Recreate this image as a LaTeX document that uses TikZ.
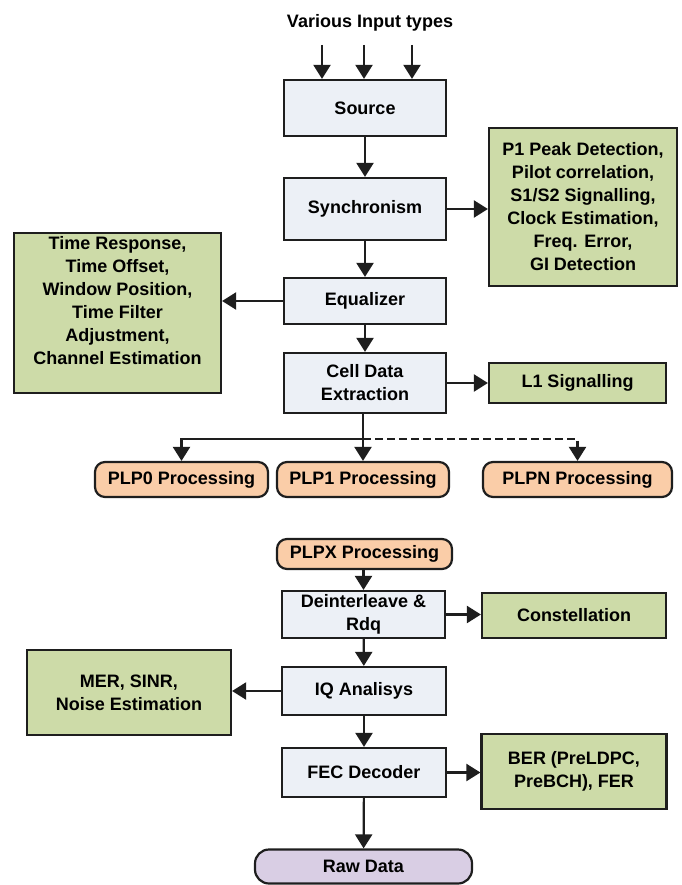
\documentclass[tikz,border=0pt]{standalone}
\usepackage{fontspec}
\setmainfont{Liberation Sans}
\usetikzlibrary{arrows.meta}
\definecolor{blockfill}{RGB}{236,240,246}
\definecolor{infofill}{RGB}{205,219,168}
\definecolor{plpfill}{RGB}{250,205,168}
\definecolor{rawfill}{RGB}{217,206,228}
\definecolor{edge}{RGB}{30,30,30}
\tikzset{
  txt/.style={inner sep=0pt, align=center, font=\fontsize{18}{23}\selectfont\bfseries},
  base/.style={txt, draw=edge, line width=2.2pt},
  block/.style={base, fill=blockfill},
  info/.style={base, fill=infofill},
  plp/.style={base, fill=plpfill, rounded corners=10pt},
  raw/.style={base, fill=rawfill, rounded corners=14pt},
  flow/.style={line width=2.2pt, draw=edge,
    -{Triangle[width=17pt,length=14pt]}},
  dashflow/.style={flow, dash pattern=on 8pt off 4pt},
  plain/.style={line width=2.2pt, draw=edge}
}
\begin{document}
\begin{tikzpicture}[x=1pt,y=-1pt]
\useasboundingbox (0,0) rectangle (681,885);

% upper chain
\node[txt] (title) at (370,23) {Various Input types};
\node[block, minimum width=162pt, minimum height=56pt] (source) at (365,108) {Source};
\node[block, minimum width=162pt, minimum height=62pt] (sync) at (365,209) {Synchronism};
\node[info, minimum width=188pt, minimum height=158pt] (sinfo) at (583,207)
  {P1 Peak Detection,\\Pilot correlation,\\S1/S2 Signalling,\\Clock Estimation,\\Freq. Error,\\GI Detection};
\node[block, minimum width=162pt, minimum height=46pt] (eq) at (365,301) {Equalizer};
% timing box: frame and its text set a little above centre
\node[info, minimum width=207pt, minimum height=160pt] (einfo) at (117.5,313) {};
\node[txt] (einfotext) at (117.5,301)
  {Time Response,\\Time Offset,\\Window Position,\\Time Filter\\Adjustment,\\Channel Estimation};
\node[block, minimum width=162pt, minimum height=60pt] (cell) at (365,383) {Cell Data\\Extraction};
\node[info, minimum width=177pt, minimum height=40pt] (l1) at (577.5,383) {L1 Signalling};

\node[plp, minimum width=173pt, minimum height=35pt] (plp0) at (181.5,479.5) {PLP0 Processing};
\node[plp, minimum width=172pt, minimum height=35pt] (plp1) at (363,479.5) {PLP1 Processing};
\node[plp, minimum width=189pt, minimum height=35pt] (plpn) at (577.5,479.5) {PLPN Processing};
\coordinate (split) at (363,439);

% input arrows
\coordinate (in1) at (322,45);
\coordinate (in2) at (364,45);
\coordinate (in3) at (412,45);
\draw[flow] (in1) -- (in1 |- source.north);
\draw[flow] (in2) -- (in2 |- source.north);
\draw[flow] (in3) -- (in3 |- source.north);

\draw[flow] (source) -- (sync);
\draw[flow] (sync.east) -- (sync.east -| sinfo.west);
\draw[flow] (sync) -- (eq);
\draw[flow] (eq.west) -- (eq.west -| einfo.east);
\draw[flow] (eq) -- (cell);
\draw[flow] (cell) -- (l1);
\draw[plain] (cell.south -| split) -- (split);
\draw[flow] (split) -- (plp1);
\draw[flow] (split) -| (plp0);
\draw[dashflow] (split) -| (plpn);

% lower chain
\node[plp, minimum width=175pt, minimum height=30pt] (plpx) at (364.5,554) {PLPX Processing};
\node[block, minimum width=163pt, minimum height=47pt] (deint) at (363.5,614.5) {Deinterleave \&\\Rdq};
\node[info, minimum width=184pt, minimum height=45pt] (const) at (574,615.5) {Constellation};
\node[block, minimum width=164pt, minimum height=48pt] (iq) at (364,691) {IQ Analisys};
\node[info, minimum width=204pt, minimum height=85pt] (mer) at (129,692.5) {MER, SINR,\\Noise Estimation};
\node[block, minimum width=164pt, minimum height=49pt] (fec) at (364,772.5) {FEC Decoder};
\node[info, minimum width=185pt, minimum height=75pt] (ber) at (574,771.5) {BER (PreLDPC,\\PreBCH), FER};
\node[raw, minimum width=217pt, minimum height=34pt] (rawdata) at (363.5,866.5) {Raw Data};

\draw[flow] (plpx.south -| deint) -- (deint);
\draw[flow] (deint) -- (deint -| const.west);
\draw[flow] (deint) -- (iq);
\draw[flow] (iq) -- (iq -| mer.east);
\draw[flow] (iq) -- (fec);
\draw[flow] (fec) -- (fec -| ber.west);
\draw[flow] (fec) -- (rawdata);
\end{tikzpicture}
\end{document}
